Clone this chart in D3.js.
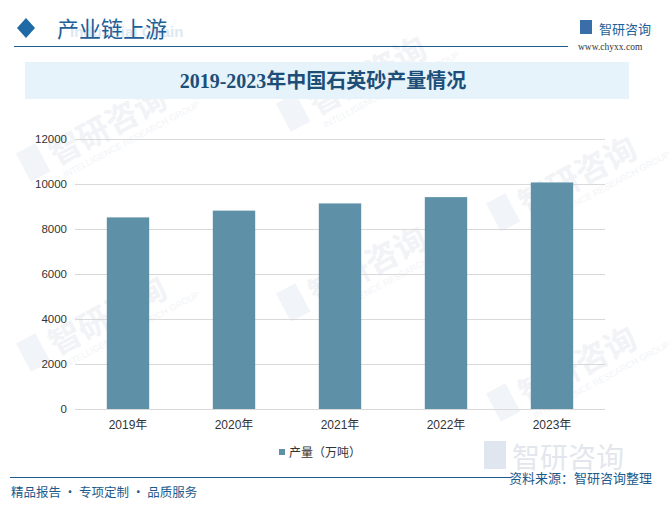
<!DOCTYPE html>
<html>
<head>
<meta charset="utf-8">
<script src="https://cdn.jsdelivr.net/npm/d3@7/dist/d3.min.js"></script>
<style>
  body { margin: 0; padding: 0; background: #fff; }
  svg { display: block; }
</style>
</head>
<body>
<div id="chart"></div>
<script>
var years = ["2019年", "2020年", "2021年", "2022年", "2023年"];
var output = [8500, 8800, 9120, 9400, 10050];
var yTicks = [0, 2000, 4000, 6000, 8000, 10000, 12000];

var W = 670, H = 506;
var cjk = "'Noto Sans CJK SC', sans-serif";
var serif = "'Liberation Serif', 'Noto Sans CJK SC', serif";
var blue = "#1b5a8c";

var svg = d3.select("#chart").append("svg")
    .attr("width", W).attr("height", H);

// faint watermarks
var wm = [[30, 180], [290, 130], [500, 230], [30, 370], [290, 320], [500, 420]];
wm.forEach(function (p) {
    var g = svg.append("g").attr("transform", "translate(" + p[0] + "," + p[1] + ") rotate(-28)");
    g.append("text").attr("x", 30).attr("y", 0)
        .attr("font-family", cjk).attr("font-size", 32).attr("font-weight", "bold")
        .attr("fill", "#f1f3f6").text("智研咨询");
    g.append("text").attr("x", 32).attr("y", 15)
        .attr("font-family", "Liberation Sans").attr("font-size", 9)
        .attr("fill", "#f2f4f7").text("INTELLIGENCE RESEARCH GROUP");
    g.append("rect").attr("x", 0).attr("y", -30).attr("width", 22).attr("height", 32)
        .attr("fill", "#f1f4f8");
});

// header
svg.append("path").attr("d", "M26,18 L35,28 L26,38 L17,28 Z").attr("fill", "#1f6aa5");
svg.append("text").attr("x", 70).attr("y", 37)
    .attr("font-family", "Liberation Sans").attr("font-weight", "bold").attr("font-size", 15)
    .attr("fill", "#dbe9f5").text("Industrial Chain");
svg.append("text").attr("x", 57).attr("y", 37)
    .attr("font-family", cjk).attr("font-size", 22).attr("fill", "#1d5f98").text("产业链上游");
svg.append("line").attr("x1", 14).attr("x2", 568).attr("y1", 46.5).attr("y2", 46.5)
    .attr("stroke", blue).attr("stroke-width", 1.2);
svg.append("rect").attr("x", 580).attr("y", 20).attr("width", 12).attr("height", 14).attr("fill", "#3a6ea8");
svg.append("text").attr("x", 599).attr("y", 34)
    .attr("font-family", cjk).attr("font-size", 13).attr("fill", "#1d5f98").text("智研咨询");
svg.append("text").attr("x", 578).attr("y", 50)
    .attr("font-family", serif).attr("font-size", 9.5).attr("fill", "#333").text("www.chyxx.com");

// title banner
svg.append("rect").attr("x", 25).attr("y", 62).attr("width", 604).attr("height", 37).attr("fill", "#e6f3fb");
svg.append("text").attr("x", 323).attr("y", 88).attr("text-anchor", "middle")
    .attr("font-family", serif).attr("font-weight", "bold").attr("font-size", 20)
    .attr("fill", "#1d4e78").text("2019-2023年中国石英砂产量情况");

// plot
var x0 = 75, x1 = 605, yTop = 138.5, yBot = 409;
var x = d3.scaleBand().domain(years).range([x0, x1]).paddingInner(0.6).paddingOuter(0.3);
var y = d3.scaleLinear().domain([0, 12000]).range([yBot, yTop]);

svg.append("g").selectAll("line").data(yTicks).join("line")
    .attr("x1", x0).attr("x2", x1)
    .attr("y1", function (d) { return Math.round(y(d)) + 0.5; })
    .attr("y2", function (d) { return Math.round(y(d)) + 0.5; })
    .attr("stroke", "#d9d9d9").attr("stroke-width", 1);

var yAxis = svg.append("g").attr("transform", "translate(" + (x0 - 8) + ",0)")
    .call(d3.axisLeft(y).tickValues(yTicks).tickSize(0).tickPadding(0).tickFormat(d3.format("d")));
yAxis.select(".domain").remove();
yAxis.selectAll("text").attr("font-family", "Liberation Sans").attr("font-size", 11.5).attr("fill", "#333");

svg.append("g").selectAll("rect").data(output).join("rect")
    .attr("x", function (d, i) { return x(years[i]); })
    .attr("width", x.bandwidth())
    .attr("y", function (d) { return y(d); })
    .attr("height", function (d) { return yBot - y(d); })
    .attr("fill", "#5e91a8");

var xAxis = svg.append("g").attr("transform", "translate(0," + yBot + ")")
    .call(d3.axisBottom(x).tickSize(0).tickPadding(11));
xAxis.select(".domain").remove();
xAxis.selectAll("text").attr("font-family", "Liberation Sans, 'Noto Sans CJK SC'")
    .attr("font-size", 12).attr("fill", "#333");

// legend
svg.append("rect").attr("x", 279).attr("y", 449).attr("width", 6).attr("height", 6).attr("fill", "#5e91a8");
svg.append("text").attr("x", 289).attr("y", 457)
    .attr("font-family", cjk).attr("font-size", 12).attr("fill", "#333").text("产量（万吨）");

// footer
svg.append("rect").attr("x", 484).attr("y", 441).attr("width", 22).attr("height", 28).attr("fill", "#dfe6ef");
svg.append("text").attr("x", 512).attr("y", 468)
    .attr("font-family", cjk).attr("font-size", 28).attr("fill", "#e3e7ed").text("智研咨询");
svg.append("line").attr("x1", 10).attr("x2", 510).attr("y1", 477.5).attr("y2", 477.5)
    .attr("stroke", blue).attr("stroke-width", 1.2);
svg.append("text").attr("x", 509).attr("y", 483)
    .attr("font-family", cjk).attr("font-size", 13).attr("fill", blue).text("资料来源：智研咨询整理");
svg.append("text").attr("x", 11).attr("y", 497)
    .attr("font-family", cjk).attr("font-size", 12.5).attr("fill", blue).text("精品报告 · 专项定制 · 品质服务");
</script>
</body>
</html>
